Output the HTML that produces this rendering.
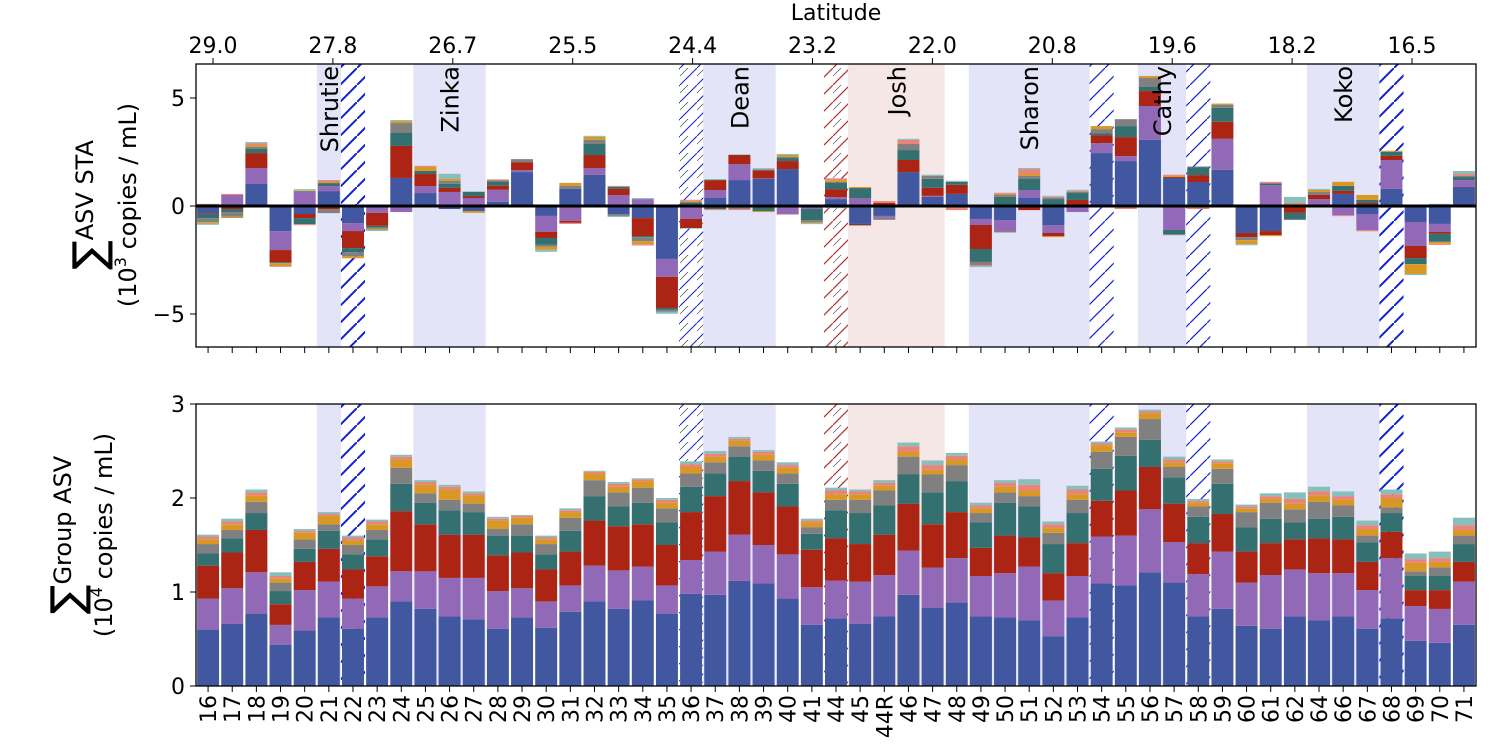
<!DOCTYPE html>
<html><head><meta charset="utf-8">
<style>
html,body{margin:0;padding:0;background:#fff;}
svg{display:block;font-family:"DejaVu Sans","Liberation Sans",sans-serif;}
</style></head>
<body>
<svg id="chart" width="1490" height="749" viewBox="0 0 1490 749" xmlns="http://www.w3.org/2000/svg">
<defs>
<pattern id="hBlue" patternUnits="userSpaceOnUse" width="17" height="17"><path d="M-2,19 L19,-2" stroke="#1020d0" stroke-width="1.2"/></pattern>
<pattern id="hBlueDense" patternUnits="userSpaceOnUse" width="17" height="17"><path d="M-2,19 L19,-2" stroke="#1020d0" stroke-width="2"/></pattern>
<pattern id="hRed" patternUnits="userSpaceOnUse" width="17" height="17"><path d="M-2,19 L19,-2" stroke="#b03030" stroke-width="1.2"/><path d="M-2,10 L10,-2" stroke="#333" stroke-width="0.6"/></pattern>
<pattern id="hBlack" patternUnits="userSpaceOnUse" width="17" height="17"><path d="M-2,19 L19,-2" stroke="#1020d0" stroke-width="1"/><path d="M-2,10 L10,-2" stroke="#222" stroke-width="0.6"/></pattern>
<clipPath id="clipTop"><rect x="196" y="64" width="1280" height="283"/></clipPath>
<clipPath id="clipBot"><rect x="196" y="404" width="1280" height="282"/></clipPath>
</defs>
<g id="bgTop" clip-path="url(#clipTop)"></g>
<g id="bgBot" clip-path="url(#clipBot)"></g>
<g id="barsTop" clip-path="url(#clipTop)"></g>
<g id="barsBot" clip-path="url(#clipBot)"></g>
<g id="axes"></g>
</svg>
<script>
const categories = ['16','17','18','19','20','21','22','23','24','25','26','27','28','29','30','31','32','33','34','35','36','37','38','39','40','41','44','45','44R','46','47','48','49','50','51','52','53','54','55','56','57','58','59','60','61','62','64','66','67','68','69','70','71'];
// bottom panel (10^4 copies/mL)
const gBlue = [.60,.66,.77,.44,.59,.73,.61,.73,.90,.82,.74,.71,.61,.73,.62,.79,.90,.82,.91,.77,.98,.97,1.12,1.09,.93,.65,.72,.66,.74,.97,.83,.89,.74,.73,.70,.53,.73,1.09,1.07,1.21,1.10,.74,.82,.64,.61,.74,.70,.74,.61,.72,.48,.46,.65];
const gPurple = [.33,.38,.44,.21,.43,.38,.32,.33,.32,.40,.41,.44,.40,.31,.28,.28,.38,.41,.36,.30,.36,.46,.49,.41,.47,.40,.40,.45,.44,.47,.43,.47,.43,.47,.57,.38,.44,.50,.53,.67,.43,.45,.61,.46,.57,.50,.50,.46,.41,.64,.37,.36,.46];
const gRed = [.35,.38,.45,.22,.30,.35,.31,.32,.64,.50,.46,.46,.38,.38,.34,.36,.48,.47,.45,.43,.51,.59,.57,.56,.51,.40,.45,.40,.43,.50,.46,.49,.30,.40,.31,.29,.35,.38,.48,.45,.41,.33,.40,.33,.34,.32,.37,.36,.30,.28,.17,.20,.21];
const gTeal = [.13,.15,.18,.14,.14,.19,.16,.18,.29,.23,.26,.24,.21,.18,.16,.22,.26,.21,.23,.24,.27,.24,.26,.23,.24,.17,.30,.33,.31,.31,.34,.33,.27,.35,.33,.31,.32,.34,.37,.29,.28,.28,.32,.26,.26,.18,.21,.24,.21,.20,.15,.15,.19];
const gGray = [.10,.09,.12,.09,.10,.07,.10,.10,.17,.10,.11,.09,.07,.12,.11,.14,.17,.15,.16,.15,.14,.12,.11,.11,.11,.07,.11,.14,.16,.19,.19,.17,.10,.11,.11,.12,.14,.18,.20,.22,.11,.11,.16,.16,.17,.14,.18,.12,.07,.06,.05,.09,.09];
const gOrange = [.05,.06,.07,.04,.07,.09,.05,.06,.09,.09,.11,.09,.09,.07,.05,.06,.07,.06,.07,.06,.07,.06,.06,.06,.06,.05,.06,.06,.05,.05,.05,.06,.05,.06,.06,.05,.06,.07,.05,.06,.05,.04,.06,.04,.04,.06,.07,.06,.07,.10,.09,.06,.06];
const gSalmon = [.03,.03,.03,.03,.02,.02,.03,.03,.03,.03,.03,.02,.02,.02,.02,.02,.02,.03,.02,.03,.03,.03,.02,.03,.03,.02,.04,.03,.03,.06,.05,.04,.03,.04,.06,.04,.05,.02,.03,.02,.03,.02,.02,.02,.03,.05,.04,.04,.04,.04,.04,.04,.05];
const gLteal = [.02,.03,.03,.04,.02,.02,.02,.02,.02,.02,.02,.02,.02,.01,.02,.02,.01,.02,.01,.02,.03,.03,.02,.02,.03,.02,.03,.02,.03,.04,.05,.03,.03,.03,.06,.03,.04,.02,.02,.02,.03,.02,.02,.02,.03,.07,.05,.05,.05,.05,.06,.07,.08];
// top panel (10^3 copies/mL, signed)
const tBlue = [-.34,-.05,1.02,-1.16,-.37,.69,-.79,0,1.30,.60,-.14,-.23,.19,1.57,-.46,.79,1.44,-.37,-.56,-2.45,0,.37,1.20,1.25,1.71,0,.32,-.83,-.46,1.57,.42,.56,-.60,-.65,.37,-.88,0,2.45,2.08,3.06,1.30,1.11,1.67,-1.25,-1.16,0,0,.56,-.37,.79,-.74,-.83,.88];
const tPurple = [0,.51,.74,-.88,.65,.23,-.37,-.32,-.28,.32,.65,.37,.56,.09,-.74,-.69,.32,.51,.32,-.83,-.60,.37,.74,.03,-.37,-.14,.09,.37,-.09,0,.05,0,-.28,-.51,.37,-.37,-.28,.46,.23,1.57,-1.11,0,1.44,0,.97,0,.32,-.42,-.74,1.34,-1.11,-.37,.32];
const tRed = [-.03,-.09,.69,-.56,-.19,-.14,-.79,-.60,1.48,.56,.19,.09,.19,.37,-.28,-.09,.60,.28,-.83,-1.44,-.42,.46,.42,.37,.37,0,.37,-.05,.14,.56,.37,.42,-1.11,-.03,-.19,-.14,.28,.37,.88,.69,.05,.32,.79,-.19,-.19,-.32,.19,.14,.14,.19,-.56,-.09,0];
const tTeal = [-.19,-.14,.19,-.05,-.28,.14,-.19,-.09,.60,.14,.19,.19,.19,0,-.32,0,.51,.09,-.05,-.09,.14,-.14,0,-.23,.14,-.51,.32,.46,0,.46,.42,.14,-.60,.42,.51,.32,.32,.09,.51,.19,-.19,.37,.65,0,.05,-.28,0,.23,.14,.19,-.28,-.37,.14];
const tGray = [-.19,-.22,.09,0,.05,-.19,-.19,-.05,.46,0,.14,0,.05,.14,-.09,.14,.19,-.09,-.19,-.09,.05,0,-.14,.05,.05,-.09,-.05,0,-.09,.28,.14,0,-.14,.09,.14,.05,.05,.19,.32,.42,-.05,.03,.14,-.14,.05,-.05,.14,0,0,0,0,.05,.05];
const tOrange = [-.06,-.06,.09,-.14,.03,.05,-.09,-.05,.09,.19,.09,-.09,0,0,-.14,.14,.14,0,-.14,0,.05,0,0,-.05,.09,-.05,.09,.05,0,0,0,-.05,0,.05,.09,-.05,0,.14,0,.09,.05,-.09,.05,-.19,-.05,.09,.09,.19,.23,.05,-.46,-.09,0];
const tSalmon = [.10,.05,.09,-.03,-.05,.09,0,.05,0,.05,0,0,.05,0,0,-.05,0,.05,-.06,0,.05,-.05,-.05,0,-.03,0,.09,0,.09,.19,0,-.14,-.05,.05,.23,.05,.05,0,-.14,0,.05,-.05,0,0,.05,.05,-.03,-.05,-.06,-.03,.03,-.05,.09];
const tLteal = [-.06,0,.05,.05,.05,0,0,-.05,.05,0,.23,.03,0,-.05,-.09,0,.05,-.05,.05,-.09,-.03,.05,.03,.05,.05,-.05,-.05,-.05,0,.05,.05,.05,-.05,-.05,.05,.05,.05,0,0,-.05,0,0,-.05,-.05,0,.28,.05,0,0,-.05,-.05,.05,.14];
const topTicks = [-5,0,5];
const botTicks = [0,1,2,3];
const latLabels = ['29.0','27.8','26.7','25.5','24.4','23.2','22.0','20.8','19.6','18.2','16.5'];
const storms = [['Shrutie','21','21'],['Zinka','25','27'],['Dean','37','39'],['Josh','45','47'],['Sharon','49','53'],['Cathy','56','57'],['Koko','64','67']];
const hatched = [['22','hBlueDense'],['36','hBlack'],['44','hRed'],['54','hBlue'],['58','hBlue'],['68','hBlueDense']];

const NS='http://www.w3.org/2000/svg';
const colors=['#4157a0','#9169b6','#ab2414','#357070','#808080','#d99825','#e8847a','#89bfbb'];
const seriesNames=['blue','purple','red','teal','gray','orange','salmon','lightteal'];
const X0=196, X1=1476, N=categories.length, BW=(X1-X0)/N;
const xc=i=>X0+BW*(i+0.5);
const yTop=v=>206-v*21.6;
const yBot=v=>686-v*94;
function mk(tag,attrs,parent){const e=document.createElementNS(NS,tag);for(const k in attrs)e.setAttribute(k,attrs[k]);parent.appendChild(e);return e;}
const bgTop=document.getElementById('bgTop'),bgBot=document.getElementById('bgBot');
const barsTop=document.getElementById('barsTop'),barsBot=document.getElementById('barsBot'),axes=document.getElementById('axes');

storms.forEach(s=>{
  const a=categories.indexOf(s[1]),b=categories.indexOf(s[2]);
  const fill=s[0]==='Josh'?'#f5e7e6':'#e4e4f8';
  [[bgTop,64,283],[bgBot,404,282]].forEach(([g,y,h])=>{
    const r=mk('rect',{x:X0+BW*a,y:y,width:BW*(b-a+1),height:h,fill:fill},g);
    
    
  });
  const t=mk('text',{x:0,y:0,'font-size':24,'text-anchor':'end',transform:`translate(${X0+BW*(a+b+1)/2+9},66) rotate(-90)`},axes);
  t.textContent=s[0];
  
  
});
hatched.forEach(h=>{
  const i=categories.indexOf(h[0]);
  [[bgTop,64,283],[bgBot,404,282]].forEach(([g,y,hh])=>{
    const r=mk('rect',{x:X0+BW*i,y:y,width:BW,height:hh,fill:`url(#${h[1]})`},g);
    
    
  });
});

const gSeries=[gBlue,gPurple,gRed,gTeal,gGray,gOrange,gSalmon,gLteal];
const bw=BW*0.91;
categories.forEach((c,i)=>{
  let cum=0;
  gSeries.forEach((arr,s)=>{
    const v=arr[i]; if(!v)return;
    const r=mk('rect',{x:xc(i)-bw/2,y:yBot(cum+v),width:bw,height:yBot(cum)-yBot(cum+v),fill:colors[s]},barsBot);
    
    
    cum+=v;
  });
});
const tSeries=[tBlue,tPurple,tRed,tTeal,tGray,tOrange,tSalmon,tLteal];
categories.forEach((c,i)=>{
  let pos=0,neg=0;
  tSeries.forEach((arr,s)=>{
    const v=arr[i]; if(!v)return;
    let y0,y1;
    if(v>0){y0=yTop(pos+v);y1=yTop(pos);pos+=v;}else{y0=yTop(neg);y1=yTop(neg+v);neg+=v;}
    const r=mk('rect',{x:xc(i)-bw/2,y:y0,width:bw,height:y1-y0,fill:colors[s]},barsTop);
    
    
  });
});
const zl=mk('line',{x1:X0,x2:X1,y1:yTop(0),y2:yTop(0),stroke:'#000','stroke-width':3},axes);



[[64,283,'top-panel-frame'],[404,282,'bottom-panel-frame']].forEach(([y,h,n])=>{
  const r=mk('rect',{x:X0,y:y,width:X1-X0,height:h,fill:'none',stroke:'#000','stroke-width':1.3},axes);
  
  
});
topTicks.forEach(v=>{
  mk('line',{x1:X0-6,x2:X0,y1:yTop(v),y2:yTop(v),stroke:'#000','stroke-width':1},axes);
  const t=mk('text',{x:X0-11,y:yTop(v)+8,'font-size':22,'text-anchor':'end'},axes);
  t.textContent=v<0?'\u2212'+Math.abs(v):String(v);
  
  
});
botTicks.forEach(v=>{
  mk('line',{x1:X0-6,x2:X0,y1:yBot(v),y2:yBot(v),stroke:'#000','stroke-width':1},axes);
  const t=mk('text',{x:X0-11,y:yBot(v)+8,'font-size':22,'text-anchor':'end'},axes);
  t.textContent=String(v);
  
  
});
categories.forEach((c,i)=>{
  mk('line',{x1:xc(i),x2:xc(i),y1:347,y2:353,stroke:'#000','stroke-width':1},axes);
  mk('line',{x1:xc(i),x2:xc(i),y1:686,y2:692,stroke:'#000','stroke-width':1},axes);
  const t=mk('text',{x:0,y:0,'font-size':22,'text-anchor':'end',transform:`translate(${xc(i)+8},695) rotate(-90)`},axes);
  t.textContent=c;
  
  
});
latLabels.forEach((l,k)=>{
  const x=213+119.9*k;
  mk('line',{x1:x,x2:x,y1:58,y2:64,stroke:'#000','stroke-width':1},axes);
  const t=mk('text',{x:x,y:53,'font-size':22,'text-anchor':'middle'},axes);
  t.textContent=l;
  
  
});
const lt=mk('text',{x:836,y:20,'font-size':22,'text-anchor':'middle'},axes);
lt.textContent='Latitude';



function ytitle(cx1,cx2,cy,sub,exp,name){
  const g=mk('g',{},axes);
  
  
  const t1=mk('text',{x:0,y:0,'text-anchor':'middle',transform:`translate(${cx1},${cy}) rotate(-90)`},g);
  const s1=mk('tspan',{'font-size':44},t1); s1.textContent='\u2211';
  const s2=mk('tspan',{'font-size':24,dy:-11},t1); s2.textContent=sub;
  const t2=mk('text',{x:0,y:0,'text-anchor':'middle','font-size':24,transform:`translate(${cx2},${cy}) rotate(-90)`},g);
  const a=mk('tspan',{},t2); a.textContent='(10';
  const b=mk('tspan',{'font-size':16,dy:-10},t2); b.textContent=exp;
  const c=mk('tspan',{dy:10},t2); c.textContent=' copies / mL)';
}
ytitle(104,136,205,'ASV STA','3','top-y-axis-title');
ytitle(82,112,535,'Group ASV','4','bottom-y-axis-title');
</script>
</body></html>
